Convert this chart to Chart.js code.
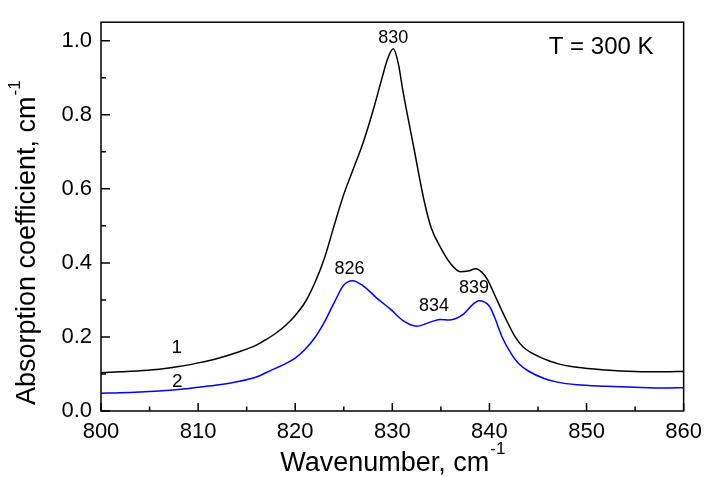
<!DOCTYPE html>
<html>
<head>
<meta charset="utf-8">
<script src="https://cdn.jsdelivr.net/npm/chart.js@4/dist/chart.umd.min.js"></script>
<style>
  html, body { margin: 0; padding: 0; background: #fff; }
  #wrap { width: 710px; height: 477px; }
</style>
</head>
<body>
<div id="wrap"><canvas id="c" width="710" height="477"></canvas></div>
<script>
// curve 1 (black)
const wn1 = [800, 802, 804, 806, 808, 810, 812, 814, 816, 817, 818, 819, 820, 821, 822, 823, 824, 825, 826, 827, 828, 829, 829.5, 830.1, 830.6, 831.1, 832.2, 833.3, 834, 835, 836, 837, 837.8, 838.6, 839.2, 839.8, 840.6, 841.7, 842.7, 843.5, 845, 846, 847, 849, 852, 855, 858, 860];
const abs1 = [0.103, 0.106, 0.109, 0.113, 0.12, 0.13, 0.142, 0.158, 0.178, 0.193, 0.21, 0.231, 0.258, 0.293, 0.345, 0.412, 0.5, 0.585, 0.655, 0.725, 0.81, 0.905, 0.95, 0.978, 0.94, 0.863, 0.713, 0.565, 0.495, 0.44, 0.398, 0.376, 0.378, 0.384, 0.375, 0.355, 0.31, 0.248, 0.198, 0.172, 0.148, 0.137, 0.128, 0.118, 0.111, 0.107, 0.106, 0.107];

// curve 2 (blue)
const wn2 = [800, 802, 804, 806, 808, 809, 810, 812, 814, 816, 817.6, 819, 820, 821, 822, 823, 824, 825, 825.9, 827, 828.4, 829.8, 831.1, 832.5, 833.9, 834.9, 835.9, 837.3, 838.3, 838.9, 840, 840.5, 841.3, 842.3, 843, 844, 845.7, 847, 849, 852, 855, 858, 860];
const abs2 = [0.048, 0.049, 0.051, 0.054, 0.058, 0.061, 0.064, 0.07, 0.079, 0.092, 0.111, 0.128, 0.143, 0.166, 0.197, 0.24, 0.292, 0.34, 0.352, 0.338, 0.305, 0.275, 0.244, 0.229, 0.24, 0.247, 0.246, 0.261, 0.288, 0.298, 0.283, 0.255, 0.2, 0.152, 0.128, 0.108, 0.087, 0.078, 0.071, 0.067, 0.064, 0.062, 0.063];

const xTicks = [800, 810, 820, 830, 840, 850, 860];
const yTicks = [0, 0.2, 0.4, 0.6, 0.8, 1.0];

// peak marks and curve numbers, in data coordinates
const notes = [
  { text: '830', x: 830.1, y: 0.995, size: 18 },
  { text: '826', x: 825.6, y: 0.369, size: 18 },
  { text: '834', x: 834.3, y: 0.271, size: 18 },
  { text: '839', x: 838.4, y: 0.318, size: 18 },
  { text: '1', x: 807.8, y: 0.156, size: 19 },
  { text: '2', x: 807.85, y: 0.066, size: 19 }
];

const FONT = '"Liberation Sans", Arial, sans-serif';

function mids(arr) {
  const out = [];
  for (let i = 0; i < arr.length - 1; i++) out.push((arr[i] + arr[i + 1]) / 2);
  return out;
}

function supText(ctx, main, sup, x, y, mainSize, supSize, raise) {
  ctx.font = mainSize + 'px ' + FONT;
  const w1 = ctx.measureText(main).width;
  ctx.font = supSize + 'px ' + FONT;
  const w2 = ctx.measureText(sup).width;
  const start = x - (w1 + w2) / 2;
  ctx.textAlign = 'left';
  ctx.textBaseline = 'alphabetic';
  ctx.font = mainSize + 'px ' + FONT;
  ctx.fillText(main, start, y);
  ctx.font = supSize + 'px ' + FONT;
  ctx.fillText(sup, start + w1 + 1, y - raise);
}

const frame = {
  id: 'frame',
  afterDraw(chart) {
    const ctx = chart.ctx;
    const a = chart.chartArea;
    const xs = chart.scales.x, ys = chart.scales.y;
    ctx.save();
    ctx.strokeStyle = '#000';
    ctx.fillStyle = '#000';
    ctx.lineWidth = 1.5;
    ctx.strokeRect(a.left, a.top, a.right - a.left, a.bottom - a.top);

    // inward ticks
    ctx.beginPath();
    xTicks.forEach(v => { const p = xs.getPixelForValue(v); ctx.moveTo(p, a.bottom); ctx.lineTo(p, a.bottom - 8); });
    mids(xTicks).forEach(v => { const p = xs.getPixelForValue(v); ctx.moveTo(p, a.bottom); ctx.lineTo(p, a.bottom - 4.5); });
    yTicks.forEach(v => { const p = ys.getPixelForValue(v); ctx.moveTo(a.left, p); ctx.lineTo(a.left + 9, p); });
    mids(yTicks).forEach(v => { const p = ys.getPixelForValue(v); ctx.moveTo(a.left, p); ctx.lineTo(a.left + 5, p); });
    ctx.stroke();

    // notes
    ctx.textAlign = 'center';
    ctx.textBaseline = 'alphabetic';
    notes.forEach(n => {
      ctx.font = n.size + 'px ' + FONT;
      ctx.fillText(n.text, xs.getPixelForValue(n.x), ys.getPixelForValue(n.y));
    });
    ctx.font = '24px ' + FONT;
    ctx.fillText('T = 300 K', a.right - 82.5, a.top + 32);

    // axis titles
    supText(ctx, 'Wavenumber, cm', '-1', (a.left + a.right) / 2, 471, 27, 17, 17);
    ctx.translate(35, a.top + 221);
    ctx.rotate(-Math.PI / 2);
    supText(ctx, 'Absorption coefficient, cm', '-1', 0, 0, 27, 17, 15);
    ctx.restore();
  }
};

new Chart(document.getElementById('c'), {
  type: 'line',
  data: {
    datasets: [
      {
        label: '1',
        data: wn1.map((v, i) => ({ x: v, y: abs1[i] })),
        borderColor: '#000000',
        borderWidth: 1.5,
        pointRadius: 0,
        cubicInterpolationMode: 'monotone',
        fill: false
      },
      {
        label: '2',
        data: wn2.map((v, i) => ({ x: v, y: abs2[i] })),
        borderColor: '#0000ff',
        borderWidth: 1.5,
        pointRadius: 0,
        cubicInterpolationMode: 'monotone',
        fill: false
      }
    ]
  },
  options: {
    responsive: false,
    animation: false,
    events: [],
    layout: { padding: { left: 0, top: 12, right: 20, bottom: 0 } },
    plugins: { legend: { display: false }, tooltip: { enabled: false } },
    scales: {
      x: {
        type: 'linear',
        min: 800,
        max: 860,
        border: { display: false },
        grid: { display: false, drawTicks: false },
        afterBuildTicks: s => { s.ticks = xTicks.map(v => ({ value: v })); },
        afterFit: s => { s.height = 66; },
        ticks: {
          padding: 8,
          color: '#000',
          font: { family: FONT, size: 22 },
          maxRotation: 0,
          callback: v => String(v)
        }
      },
      y: {
        type: 'linear',
        min: 0,
        max: 1.05,
        border: { display: false },
        grid: { display: false, drawTicks: false },
        afterBuildTicks: s => { s.ticks = yTicks.map(v => ({ value: v })); },
        afterFit: s => { s.width = 101; },
        ticks: {
          padding: 9,
          color: '#000',
          font: { family: FONT, size: 22 },
          callback: v => v.toFixed(1)
        }
      }
    }
  },
  plugins: [frame]
});
</script>
</body>
</html>
